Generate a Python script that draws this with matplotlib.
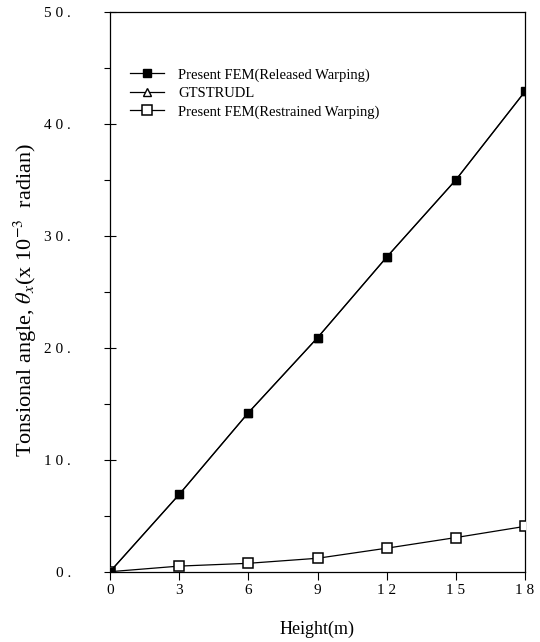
import matplotlib
matplotlib.use("Agg")
import matplotlib.pyplot as plt
from matplotlib.ticker import FixedLocator

height = [0, 3, 6, 9, 12, 15, 18]
released = [0.0, 6.9, 14.2, 20.9, 28.1, 35.0, 42.9]
gtstrudl = [0.0, 6.9, 14.2, 20.9, 28.1, 35.0, 42.9]
restrained = [0.0, 0.5, 0.75, 1.2, 2.1, 3.05, 4.05]

xticks = [0, 3, 6, 9, 12, 15, 18]
xticklabels = ["0", "3", "6", "9", "1 2", "1 5", "1 8"]
yticks = [0, 10, 20, 30, 40, 50]
yticklabels = ["0 .", "1 0 .", "2 0 .", "3 0 .", "4 0 .", "5 0 ."]

plt.rcParams['font.family'] = ['Liberation Serif', 'DejaVu Serif']
plt.rcParams['mathtext.fontset'] = 'stix'

fig = plt.figure(figsize=(5.4, 6.42), dpi=100)
ax = fig.add_axes([110/540, 1 - 571.7/642, (525-110)/540, (571.7-12)/642])

ax.plot(height, released, color='black', lw=0.9, marker='s', ms=5.5,
        mfc='black', mec='black', mew=1.0, zorder=4,
        label='Present FEM(Released Warping)')
ax.plot(height, gtstrudl, color='black', lw=0.9, marker='^', ms=6,
        mfc='white', mec='black', mew=1.0, zorder=3, label='GTSTRUDL')
ax.plot(height, restrained, color='black', lw=0.9, marker='s', ms=6.5,
        mfc='white', mec='black', mew=1.1, zorder=3,
        label='Present FEM(Restrained Warping)')

ax.set_xlim(0, 18)
ax.set_ylim(0, 50)
ax.set_xticks(xticks)
ax.set_xticklabels(xticklabels, fontsize=11)
ax.set_yticks(yticks)
ax.set_yticklabels(yticklabels, fontsize=11)
ax.yaxis.set_minor_locator(FixedLocator([5, 15, 25, 35, 45]))
ax.tick_params(axis='y', which='major', direction='inout', length=8, width=0.8, pad=24)
ax.tick_params(axis='y', which='minor', direction='out', length=4, width=0.8)
ax.tick_params(axis='x', which='major', direction='out', length=6, width=0.8, pad=3)

for s in ax.spines.values():
    s.set_linewidth(0.9)

ax.set_xlabel('Height(m)', fontsize=13)
ax.xaxis.set_label_coords(0.5, -0.088)
ax.set_ylabel(r'Tonsional angle, $\theta_x$(x 10$^{-3}$  radian)', fontsize=16)
ax.yaxis.set_label_coords(-0.172, 0.485)

leg = ax.legend(loc='upper left', bbox_to_anchor=(0.035, 0.91), frameon=False,
                fontsize=10.5, handlelength=2.3, handletextpad=1.0,
                labelspacing=0.35, borderaxespad=0)

fig.savefig('out.png', dpi=100)
